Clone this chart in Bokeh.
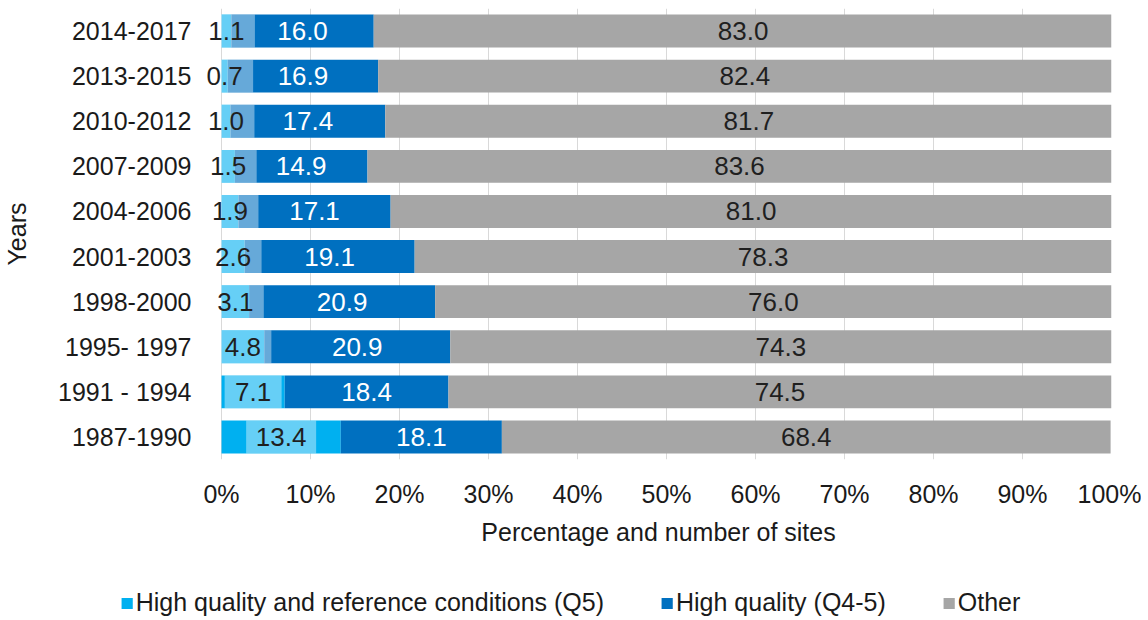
from bokeh.plotting import figure
from bokeh.layouts import column, row
from bokeh.models import (FactorRange, Range1d, ColumnDataSource, Legend, LegendItem,
                          FixedTicker, PrintfTickFormatter)
from bokeh.core.properties import value
from bokeh.embed import file_html
from bokeh.resources import INLINE

# ---- data (top row first, as in the chart) ----
years = ["2014-2017", "2013-2015", "2010-2012", "2007-2009", "2004-2006",
         "2001-2003", "1998-2000", "1995- 1997", "1991 - 1994", "1987-1990"]
q5 = [1.1, 0.7, 1.0, 1.5, 1.9, 2.6, 3.1, 4.8, 7.1, 13.4]
q45 = [16.0, 16.9, 17.4, 14.9, 17.1, 19.1, 20.9, 20.9, 18.4, 18.1]
other = [83.0, 82.4, 81.7, 83.6, 81.0, 78.3, 76.0, 74.3, 74.5, 68.4]
x_ticks = [0, 10, 20, 30, 40, 50, 60, 70, 80, 90, 100]
series_names = ["High quality and reference conditions (Q5)", "High quality (Q4-5)", "Other"]

colors = ["#00b0f0", "#0070c0", "#a6a6a6"]
FONT = "Liberation Sans"

src = ColumnDataSource(dict(
    year=years, q5=q5, q45=q45, other=other,
    x_q5=[a / 2 for a in q5],
    x_q45=[a + b / 2 for a, b in zip(q5, q45)],
    x_oth=[a + b + c / 2 for a, b, c in zip(q5, q45, other)],
    t_q5=[f"{v:.1f}" for v in q5],
    t_q45=[f"{v:.1f}" for v in q45],
    t_oth=[f"{v:.1f}" for v in other],
    w_q5=[len(f"{v:.1f}") * 13 + 18 for v in q5],
))

yr = FactorRange(*years[::-1])
xr = Range1d(-1.8, 100)

p = figure(y_range=yr, x_range=xr,
           frame_width=906, frame_height=451,
           min_border_left=204, min_border_right=30, min_border_top=8, min_border_bottom=90,
           output_backend="svg", toolbar_location=None)

rs = p.hbar_stack(["q5", "q45", "other"], y="year", height=0.73, color=colors,
                  line_width=0, source=src)

# semi-transparent label box for Q5 values
p.rect(x="x_q5", y="year", width="w_q5", width_units="screen", height=0.73,
       fill_color="white", fill_alpha=0.4, line_width=0, source=src)

common = dict(y="year", source=src, text_font=value(FONT), text_font_size="26px",
              text_align="center", text_baseline="middle")
p.text(x="x_q5", text="t_q5", text_color="#1f1f1f", **common)
p.text(x="x_q45", text="t_q45", text_color="white", **common)
p.text(x="x_oth", text="t_oth", text_color="#1f1f1f", **common)

# axes
p.xaxis.ticker = FixedTicker(ticks=x_ticks)
p.xaxis.formatter = PrintfTickFormatter(format="%d%%")
p.xaxis.axis_line_color = None
p.xaxis.major_tick_line_color = None
p.xaxis.minor_tick_line_color = None
p.xaxis.major_label_standoff = 14
p.xaxis.axis_label = "Percentage and number of sites"
p.xaxis.axis_label_standoff = 7

p.yaxis.axis_line_color = None
p.yaxis.major_tick_line_color = None
p.yaxis.minor_tick_line_color = None
p.yaxis.major_label_standoff = 8
p.yaxis.axis_label = "Years"
p.yaxis.axis_label_standoff = 24

for ax in (p.xaxis, p.yaxis):
    ax.major_label_text_font = FONT
    ax.major_label_text_font_size = "25px"
    ax.major_label_text_color = "#1a1a1a"
    ax.axis_label_text_font = FONT
    ax.axis_label_text_font_size = "25px"
    ax.axis_label_text_font_style = "normal"
    ax.axis_label_text_color = "#1a1a1a"

p.xgrid.grid_line_color = "#d9d9d9"
p.ygrid.grid_line_color = None
p.outline_line_color = None

# ---- legend strip (separate small figure below the chart) ----
p2 = figure(y_range=yr, x_range=xr, width=1140, height=68, min_border=0,
            x_axis_location=None, y_axis_location=None,
            output_backend="svg", toolbar_location=None)
p2.grid.visible = False
p2.outline_line_color = None
rs2 = p2.hbar_stack(["q5", "q45", "other"], y="year", height=0.73, color=colors,
                    line_width=0, source=src, visible=False)

legend = Legend(items=[LegendItem(label=n, renderers=[r]) for n, r in zip(series_names, rs2)],
                orientation="horizontal", location="bottom_center",
                glyph_width=14, glyph_height=14, label_standoff=2, spacing=56,
                padding=0, margin=0, background_fill_alpha=0, border_line_alpha=0,
                inactive_fill_alpha=0,
                label_text_font=FONT, label_text_font_size="25px", label_text_color="#1a1a1a")
p2.add_layout(legend)

open("out.html", "w").write(file_html(column(p, row(p2), spacing=0), INLINE))
